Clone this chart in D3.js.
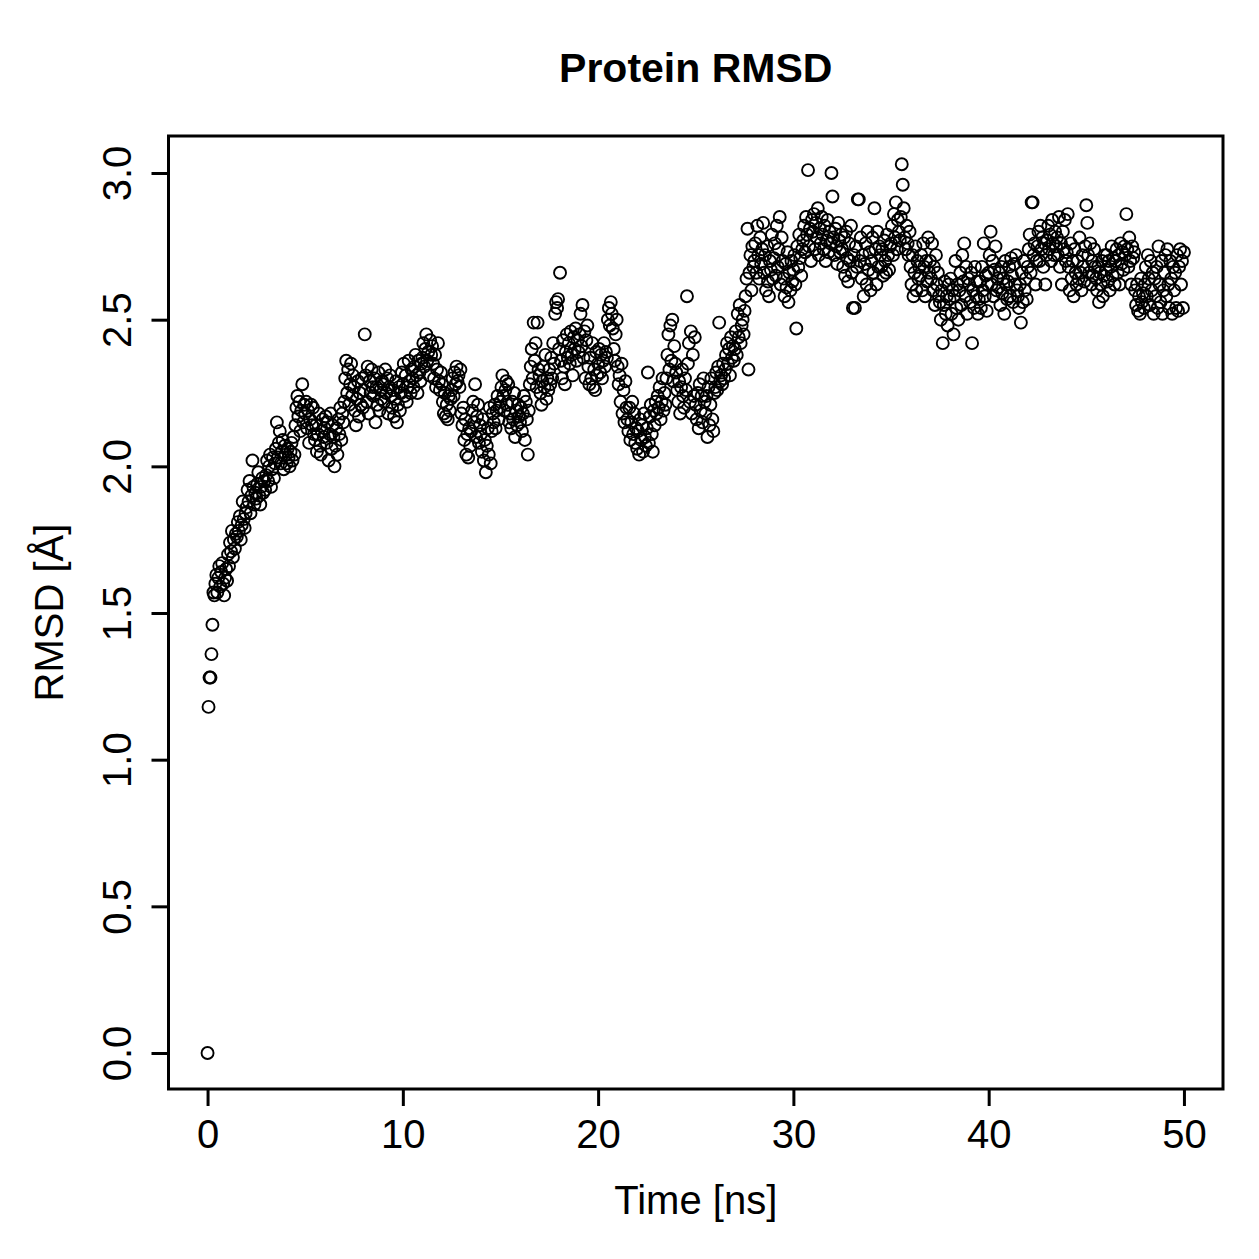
<!DOCTYPE html>
<html>
<head>
<meta charset="utf-8">
<script src="https://cdn.jsdelivr.net/npm/d3@7"></script>
<style>
  html, body { margin: 0; padding: 0; background: #fff; }
  svg { display: block; }
  text { font-family: "Liberation Sans", Arial, Helvetica, sans-serif; fill: #000; }
</style>
</head>
<body>
<div id="chart"></div>
<script>
// RMSD samples, one frame every 0.05 ns, split by 10 ns blocks
var timeStep = 0.05;

var rmsd00to10 = [
  0.00, 1.18, 1.28, 1.28, 1.36, 1.46, 1.57, 1.56, 1.60, 1.63,
  1.57, 1.62, 1.66, 1.59, 1.64, 1.67, 1.60, 1.56, 1.62, 1.65,
  1.61, 1.70, 1.66, 1.74, 1.71, 1.78, 1.69, 1.75, 1.72, 1.77,
  1.76, 1.81, 1.78, 1.83, 1.75, 1.80, 1.88, 1.82, 1.79, 1.84,
  1.86, 1.92, 1.88, 1.95, 1.84, 1.90, 2.02, 1.93, 1.87, 1.91,
  1.89, 1.94, 1.98, 1.90, 1.87, 1.93, 1.96, 1.91, 1.95, 1.92,
  1.97, 2.02, 1.95, 2.00, 2.04, 1.93, 1.99, 2.03, 1.96, 2.01,
  2.06, 2.15, 2.03, 2.08, 2.12, 2.01, 2.05, 2.09, 1.99, 2.07,
  2.04, 2.01, 2.06, 2.03, 2.00, 2.05, 2.08, 2.02, 2.10, 2.04,
  2.14, 2.20, 2.24, 2.17, 2.22, 2.12, 2.19, 2.28, 2.15, 2.21,
  2.18, 2.22, 2.13, 2.19, 2.08, 2.16, 2.21, 2.14, 2.20, 2.11,
  2.09, 2.14, 2.05, 2.11, 2.18, 2.07, 2.04, 2.12, 2.16, 2.10,
  2.13, 2.17, 2.08, 2.15, 2.02, 2.11, 2.18, 2.06, 2.14, 2.10,
  2.00, 2.07, 2.13, 2.04, 2.16, 2.11, 2.20, 2.09, 2.18, 2.15,
  2.22, 2.30, 2.36, 2.25, 2.33, 2.21, 2.28, 2.35, 2.24, 2.31,
  2.27, 2.19, 2.14, 2.23, 2.29, 2.17, 2.25, 2.21, 2.30, 2.20,
  2.26, 2.45, 2.31, 2.22, 2.34, 2.18, 2.29, 2.25, 2.33, 2.27,
  2.24, 2.30, 2.15, 2.27, 2.21, 2.32, 2.19, 2.26, 2.23, 2.29,
  2.28, 2.22, 2.33, 2.25, 2.30, 2.18, 2.27, 2.31, 2.24, 2.20,
  2.26, 2.17, 2.23, 2.29, 2.15, 2.21, 2.27, 2.19, 2.25, 2.32
];

var rmsd10to20 = [
  2.28, 2.35, 2.24, 2.31, 2.22, 2.27, 2.36, 2.29, 2.25, 2.33,
  2.30, 2.27, 2.34, 2.38, 2.31, 2.25, 2.36, 2.32, 2.29, 2.35,
  2.37, 2.42, 2.34, 2.40, 2.45, 2.36, 2.39, 2.31, 2.43, 2.38,
  2.41, 2.35, 2.30, 2.38, 2.27, 2.33, 2.42, 2.29, 2.26, 2.32,
  2.28, 2.22, 2.18, 2.25, 2.17, 2.21, 2.16, 2.24, 2.19, 2.23,
  2.26, 2.30, 2.24, 2.32, 2.28, 2.34, 2.29, 2.31, 2.27, 2.33,
  2.18, 2.14, 2.20, 2.09, 2.16, 2.04, 2.11, 2.03, 2.13, 2.07,
  2.12, 2.19, 2.22, 2.15, 2.28, 2.10, 2.17, 2.21, 2.08, 2.14,
  2.11, 2.05, 2.16, 2.02, 2.09, 1.98, 2.07, 2.13, 2.04, 2.20,
  2.01, 2.12, 2.18, 2.15, 2.21, 2.13, 2.19, 2.24, 2.16, 2.20,
  2.22, 2.27, 2.31, 2.24, 2.19, 2.26, 2.29, 2.21, 2.28, 2.15,
  2.18, 2.13, 2.22, 2.16, 2.25, 2.10, 2.19, 2.14, 2.21, 2.17,
  2.15, 2.20, 2.12, 2.18, 2.24, 2.09, 2.22, 2.16, 2.04, 2.19,
  2.28, 2.34, 2.40, 2.30, 2.49, 2.36, 2.42, 2.27, 2.49, 2.33,
  2.31, 2.25, 2.21, 2.29, 2.34, 2.27, 2.38, 2.23, 2.30, 2.26,
  2.33, 2.28, 2.37, 2.30, 2.42, 2.35, 2.52, 2.56, 2.54, 2.57,
  2.40, 2.66, 2.36, 2.30, 2.43, 2.34, 2.28, 2.39, 2.45, 2.37,
  2.42, 2.35, 2.46, 2.38, 2.31, 2.44, 2.40, 2.47, 2.36, 2.43,
  2.39, 2.45, 2.52, 2.41, 2.55, 2.37, 2.46, 2.30, 2.43, 2.48,
  2.34, 2.28, 2.37, 2.30, 2.42, 2.27, 2.33, 2.26, 2.39, 2.31
];

var rmsd20to30 = [
  2.35, 2.40, 2.32, 2.38, 2.30, 2.36, 2.42, 2.34, 2.39, 2.37,
  2.50, 2.54, 2.48, 2.56, 2.52, 2.47, 2.40, 2.36, 2.45, 2.50,
  2.34, 2.28, 2.31, 2.22, 2.35, 2.18, 2.26, 2.15, 2.29, 2.20,
  2.16, 2.12, 2.20, 2.09, 2.15, 2.22, 2.11, 2.18, 2.08, 2.13,
  2.06, 2.12, 2.04, 2.16, 2.09, 2.14, 2.05, 2.18, 2.10, 2.07,
  2.13, 2.32, 2.08, 2.17, 2.21, 2.11, 2.05, 2.19, 2.14, 2.22,
  2.18, 2.24, 2.20, 2.27, 2.16, 2.22, 2.30, 2.19, 2.25, 2.21,
  2.30, 2.38, 2.45, 2.33, 2.48, 2.36, 2.50, 2.29, 2.41, 2.35,
  2.32, 2.26, 2.22, 2.29, 2.18, 2.27, 2.33, 2.24, 2.20, 2.30,
  2.26, 2.58, 2.35, 2.42, 2.22, 2.46, 2.18, 2.38, 2.24, 2.44,
  2.21, 2.16, 2.25, 2.13, 2.28, 2.19, 2.24, 2.15, 2.30, 2.22,
  2.18, 2.24, 2.10, 2.27, 2.14, 2.21, 2.30, 2.16, 2.12, 2.25,
  2.27, 2.32, 2.26, 2.34, 2.49, 2.29, 2.31, 2.28, 2.35, 2.30,
  2.33, 2.38, 2.42, 2.35, 2.40, 2.31, 2.44, 2.37, 2.41, 2.36,
  2.40, 2.46, 2.38, 2.52, 2.44, 2.55, 2.42, 2.48, 2.50, 2.45,
  2.53, 2.58, 2.64, 2.81, 2.33, 2.66, 2.72, 2.60, 2.75, 2.68,
  2.70, 2.76, 2.66, 2.82, 2.72, 2.64, 2.78, 2.69, 2.74, 2.83,
  2.66, 2.72, 2.60, 2.75, 2.63, 2.58, 2.70, 2.67, 2.79, 2.64,
  2.71, 2.76, 2.65, 2.82, 2.68, 2.74, 2.85, 2.62, 2.78, 2.70,
  2.64, 2.58, 2.69, 2.61, 2.73, 2.56, 2.66, 2.60, 2.70, 2.63
];

var rmsd30to40 = [
  2.67, 2.72, 2.62, 2.47, 2.75, 2.68, 2.79, 2.71, 2.65, 2.74,
  2.77, 2.82, 2.73, 2.85, 2.79, 3.01, 2.75, 2.81, 2.70, 2.84,
  2.80, 2.86, 2.74, 2.83, 2.78, 2.88, 2.72, 2.81, 2.76, 2.85,
  2.79, 2.74, 2.82, 2.70, 2.77, 2.84, 2.73, 2.80, 2.76, 3.00,
  2.92, 2.78, 2.72, 2.81, 2.75, 2.69, 2.83, 2.77, 2.73, 2.79,
  2.74, 2.68, 2.78, 2.65, 2.80, 2.71, 2.63, 2.76, 2.70, 2.82,
  2.66, 2.54, 2.72, 2.54, 2.75, 2.68, 2.91, 2.91, 2.70, 2.78,
  2.64, 2.72, 2.58, 2.69, 2.76, 2.62, 2.80, 2.67, 2.73, 2.60,
  2.70, 2.78, 2.66, 2.88, 2.74, 2.62, 2.80, 2.68, 2.75, 2.72,
  2.68, 2.74, 2.65, 2.77, 2.70, 2.66, 2.79, 2.72, 2.67, 2.75,
  2.76, 2.82, 2.72, 2.86, 2.78, 2.90, 2.74, 2.84, 2.80, 2.77,
  2.85, 3.03, 2.96, 2.88, 2.78, 2.74, 2.82, 2.76, 2.72, 2.80,
  2.68, 2.62, 2.72, 2.58, 2.66, 2.75, 2.60, 2.70, 2.64, 2.68,
  2.65, 2.72, 2.60, 2.76, 2.68, 2.58, 2.70, 2.63, 2.78, 2.66,
  2.70, 2.64, 2.76, 2.60, 2.68, 2.55, 2.72, 2.62, 2.66, 2.58,
  2.56, 2.50, 2.60, 2.42, 2.55, 2.63, 2.52, 2.58, 2.48, 2.62,
  2.57, 2.64, 2.52, 2.60, 2.45, 2.58, 2.70, 2.54, 2.62, 2.50,
  2.60, 2.66, 2.55, 2.72, 2.63, 2.76, 2.58, 2.68, 2.52, 2.64,
  2.62, 2.56, 2.66, 2.42, 2.60, 2.54, 2.68, 2.58, 2.63, 2.52,
  2.57, 2.63, 2.54, 2.68, 2.60, 2.76, 2.58, 2.65, 2.53, 2.62
];

var rmsd40to50 = [
  2.66, 2.72, 2.80, 2.62, 2.70, 2.58, 2.67, 2.75, 2.60, 2.64,
  2.61, 2.66, 2.55, 2.68, 2.59, 2.64, 2.52, 2.70, 2.62, 2.57,
  2.63, 2.68, 2.58, 2.71, 2.65, 2.56, 2.69, 2.62, 2.72, 2.60,
  2.58, 2.54, 2.62, 2.49, 2.66, 2.56, 2.70, 2.60, 2.64, 2.57,
  2.68, 2.74, 2.79, 2.66, 2.90, 2.90, 2.72, 2.76, 2.62, 2.70,
  2.75, 2.80, 2.70, 2.82, 2.74, 2.78, 2.68, 2.76, 2.62, 2.72,
  2.77, 2.82, 2.74, 2.79, 2.70, 2.84, 2.76, 2.72, 2.80, 2.75,
  2.78, 2.72, 2.85, 2.68, 2.76, 2.62, 2.80, 2.74, 2.84, 2.70,
  2.73, 2.86, 2.68, 2.60, 2.76, 2.64, 2.70, 2.58, 2.74, 2.66,
  2.62, 2.70, 2.64, 2.78, 2.66, 2.60, 2.72, 2.68, 2.63, 2.75,
  2.89, 2.83, 2.72, 2.66, 2.76, 2.62, 2.70, 2.65, 2.74, 2.68,
  2.64, 2.60, 2.68, 2.56, 2.66, 2.62, 2.70, 2.58, 2.65, 2.72,
  2.67, 2.72, 2.63, 2.70, 2.60, 2.68, 2.75, 2.65, 2.71, 2.62,
  2.70, 2.74, 2.66, 2.72, 2.62, 2.76, 2.69, 2.73, 2.67, 2.75,
  2.72, 2.86, 2.74, 2.68, 2.78, 2.70, 2.62, 2.75, 2.71, 2.73,
  2.60, 2.55, 2.62, 2.53, 2.58, 2.52, 2.64, 2.56, 2.59, 2.54,
  2.62, 2.68, 2.58, 2.72, 2.64, 2.55, 2.70, 2.60, 2.66, 2.52,
  2.64, 2.58, 2.68, 2.54, 2.75, 2.62, 2.56, 2.70, 2.52, 2.60,
  2.66, 2.72, 2.58, 2.74, 2.62, 2.54, 2.70, 2.64, 2.52, 2.68,
  2.60, 2.66, 2.54, 2.72, 2.53, 2.68, 2.74, 2.62, 2.70, 2.54,
  2.73
];

var xTicks = [0, 10, 20, 30, 40, 50];
var yTicks = [0, 0.5, 1, 1.5, 2, 2.5, 3];

var rmsd = [].concat(rmsd00to10, rmsd10to20, rmsd20to30, rmsd30to40, rmsd40to50);
var data = rmsd.map(function(v, i) { return {time: i * timeStep, rmsd: v}; });

var width = 1259, height = 1259;
// plot box, same as R's default par
var box = {left: 168.5, right: 1223, top: 136, bottom: 1089};

var svg = d3.select("#chart").append("svg")
  .attr("width", width)
  .attr("height", height);

svg.append("rect").attr("width", width).attr("height", height).attr("fill", "#fff");

// R pads the axis range by 4% on each side
var x = d3.scaleLinear().domain([-2, 52]).range([box.left, box.right]);
var y = d3.scaleLinear().domain([-0.1227, 3.1262]).range([box.bottom, box.top]);

// points
svg.append("g")
  .selectAll("circle")
  .data(data)
  .enter().append("circle")
    .attr("cx", function(d) { return x(d.time); })
    .attr("cy", function(d) { return y(d.rmsd); })
    .attr("r", 6)
    .attr("fill", "none")
    .attr("stroke", "#000")
    .attr("stroke-width", 1.9);

// x axis
var gx = svg.append("g")
  .attr("transform", "translate(0," + box.bottom + ")")
  .call(d3.axisBottom(x).tickValues(xTicks).tickSize(17).tickPadding(14).tickFormat(d3.format("d")));
gx.select(".domain").remove();
gx.selectAll(".tick line").attr("stroke", "#000").attr("stroke-width", 3);
gx.selectAll(".tick text").attr("font-size", "40px").attr("font-family", null);

// y axis, labels parallel to the axis like R's las=0
var gy = svg.append("g")
  .attr("transform", "translate(" + box.left + ",0)")
  .call(d3.axisLeft(y).tickValues(yTicks).tickSize(17).tickFormat(d3.format(".1f")));
gy.select(".domain").remove();
gy.selectAll(".tick line").attr("stroke", "#000").attr("stroke-width", 3);
gy.selectAll(".tick text")
  .attr("font-size", "40px")
  .attr("font-family", null)
  .attr("text-anchor", "middle")
  .attr("transform", "rotate(-90)")
  .attr("x", 0)
  .attr("y", -38)
  .attr("dy", 0);

// box
svg.append("rect")
  .attr("x", box.left)
  .attr("y", box.top)
  .attr("width", box.right - box.left)
  .attr("height", box.bottom - box.top)
  .attr("fill", "none")
  .attr("stroke", "#000")
  .attr("stroke-width", 3);

// titles
svg.append("text")
  .attr("x", (box.left + box.right) / 2)
  .attr("y", 82)
  .attr("text-anchor", "middle")
  .attr("font-size", "41px")
  .attr("font-weight", "bold")
  .text("Protein RMSD");

svg.append("text")
  .attr("x", (box.left + box.right) / 2)
  .attr("y", 1214)
  .attr("text-anchor", "middle")
  .attr("font-size", "40px")
  .text("Time [ns]");

svg.append("text")
  .attr("transform", "translate(63," + ((box.top + box.bottom) / 2) + ") rotate(-90)")
  .attr("text-anchor", "middle")
  .attr("font-size", "40px")
  .text("RMSD [Å]");
</script>
</body>
</html>
